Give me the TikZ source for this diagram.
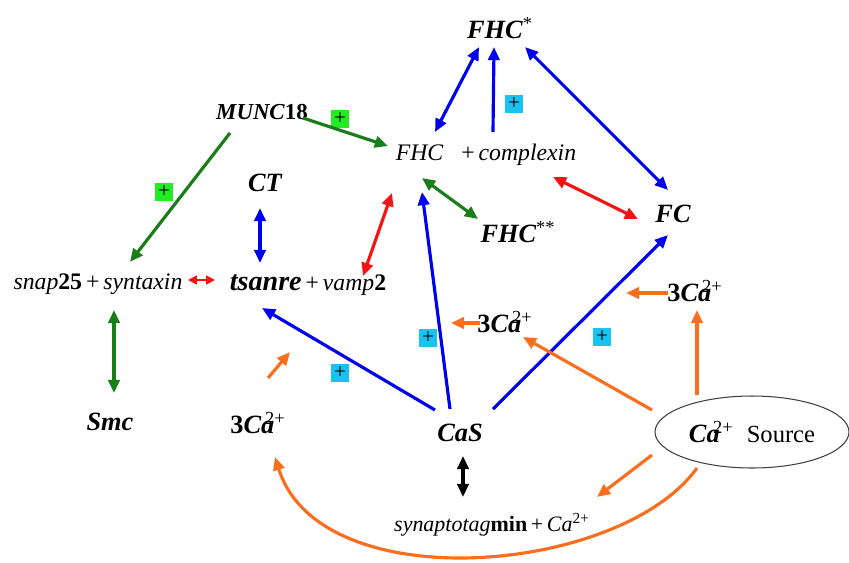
\documentclass[tikz,border=0pt]{standalone}
\usepackage{fontspec}
\setmainfont{Liberation Serif}
\usetikzlibrary{arrows.meta,calc,shapes.geometric}
\definecolor{myblue}{RGB}{0,0,240}
\definecolor{mygreen}{RGB}{25,125,25}
\definecolor{myred}{RGB}{245,20,20}
\definecolor{myorange}{RGB}{250,110,30}
\definecolor{mycyan}{RGB}{25,195,240}
\definecolor{mylime}{RGB}{35,235,35}
\begin{document}
\begin{tikzpicture}[x=0.02cm,y=-0.02cm,
  >={Triangle[length=7.5pt,width=6.5pt]},
  every node/.style={inner sep=1pt},
  big/.style={font=\fontsize{15}{17}\selectfont\bfseries\itshape},
  med/.style={font=\fontsize{13.5}{16}\selectfont},
  bline/.style={draw=myblue,line width=1.8pt},
  gline/.style={draw=mygreen,line width=1.8pt},
  rline/.style={draw=myred,line width=1.8pt},
  oline/.style={draw=myorange,line width=1.8pt},
  kline/.style={draw=black,line width=1.8pt},
  plus/.style={minimum size=10pt,inner sep=0pt,font=\fontsize{12}{12}\selectfont}]
\useasboundingbox (0,0) rectangle (849,562);
% species
\node[big] (fhcs) at (500,28) {FHC\textsuperscript{\normalfont*}};
\node[big,font=\fontsize{13}{15}\selectfont\bfseries] (munc) at (262,112) {\textit{MUNC}18};
\node[med] (fhc) at (486,155) {\textit{FHC}\enspace\ +\,\textit{complexin}};
\node[big] (ct) at (265,183) {CT};
\node[big] (fhcss) at (518,232) {FHC\textsuperscript{\normalfont**}};
\node[big] (fc) at (673,214) {FC};
\node[med] (snap) at (98,284) {\textit{snap}\textbf{25}\,+\,\textit{syntaxin}};
\node[med] (ts) at (308,285) {{\fontsize{16}{18}\selectfont\bfseries\itshape tsanre}\,+\,\textit{vamp}\textbf{2}};
\node[big] (camid) at (505,322) {\upshape3\itshape Ca\kern-.35em\textsuperscript{\normalfont 2+}};
\node[big] (caright) at (695,291) {\upshape3\itshape Ca\kern-.35em\textsuperscript{\normalfont 2+}};
\node[big] (smc) at (110,422) {Smc};
\node[big] (caleft) at (258,423) {\upshape3\itshape Ca\kern-.35em\textsuperscript{\normalfont 2+}};
\node[big] (cas) at (460,433) {CaS};
\node[ellipse,draw=black!75,line width=0.6pt,minimum width=3.88cm,minimum height=1.44cm] (src) at (752,432)
  {\fontsize{15}{17}\selectfont\textbf{\textit{Ca}}\kern-.25em\textsuperscript{2+}\ \ {\fontsize{14}{16}\selectfont Source}};
\node[med,font=\fontsize{12.5}{15}\selectfont] (syn) at (492,525) {\textit{synaptotag}\textbf{min}\,+\,\textit{Ca}\textsuperscript{2+}};
% plus signs
\foreach \x/\y/\c in {514/104/mycyan,428/338/mycyan,602/337/mycyan,340/373/mycyan,340/119/mylime,164/192/mylime}
  \node[plus,fill=\c] (p\x) at (\x,\y) {+};
% blue
\draw[bline,<->] ($(fhc)+(-51,-23)$) -- ($(fhcs)+(-21,19)$);
\draw[bline,->] ($(fhc)+(7,-23)$) -- ($(fhcs)+(-6,19)$);
\draw[bline,<->] ($(fhcs)+(25,19)$) -- ($(fc)+(-5,-24)$);
\draw[bline,<->] ($(ct)+(-5,25)$) -- ($(ts)+(-48,-22)$);
\draw[bline,->] ($(cas)+(-10,-24)$) -- ($(fhc)+(-64,37)$);
\draw[bline,->] ($(cas)+(-25,-23)$) -- ($(ts)+(-46,23)$);
\draw[bline,->] ($(cas)+(33,-24)$) -- ($(fc)+(-5,21)$);
% green
\draw[gline,->] ($(munc)+(41,6)$) -- ($(fhc)+(-98,-9)$);
\draw[gline,->] ($(munc)+(-32,21)$) -- ($(snap)+(32,-22)$);
\draw[gline,<->] ($(fhc)+(-64,23)$) -- ($(fhcss)+(-40,-13)$);
\draw[gline,<->] ($(snap)+(16,26)$) -- ($(smc)+(4,-29)$);
% red
\draw[rline,line width=1.3pt,{Triangle[length=5pt,width=5pt]}-{Triangle[length=5pt,width=5pt]}] ($(snap)+(90,-4)$) -- ($(ts)+(-93,-5)$);
\draw[rline,<->] ($(ts)+(55,-9)$) -- ($(fhc)+(-94,38)$);
\draw[rline,<->] ($(fhc)+(67,22)$) -- ($(fc)+(-35,5)$);
% black
\draw[kline,<->] ($(cas)+(3,23)$) -- ($(syn)+(-29,-28)$);
% orange
\draw[oline,->] ($(caleft)+(10,-45)$) -- ($(ts)+(-18,67)$);
\draw[oline,->] ($(camid)+(-25,1)$) -- ++(-29,0);
\draw[oline,->] ($(caright)+(-27,2)$) -- ++(-42,0);
\draw[oline,->] ($(src)+(-100,-22)$) -- ($(camid)+(18,15)$);
\draw[oline,->] ($(src)+(-55,-37)$) -- ($(caright)+(2,19)$);
\draw[oline,->] ($(src)+(-100,23)$) -- ($(syn)+(105,-28)$);
\draw[oline,->] ($(src)+(-55,36)$) .. controls (620,575) and (320,600) .. ($(caleft)+(17,34)$);
\end{tikzpicture}
\end{document}
